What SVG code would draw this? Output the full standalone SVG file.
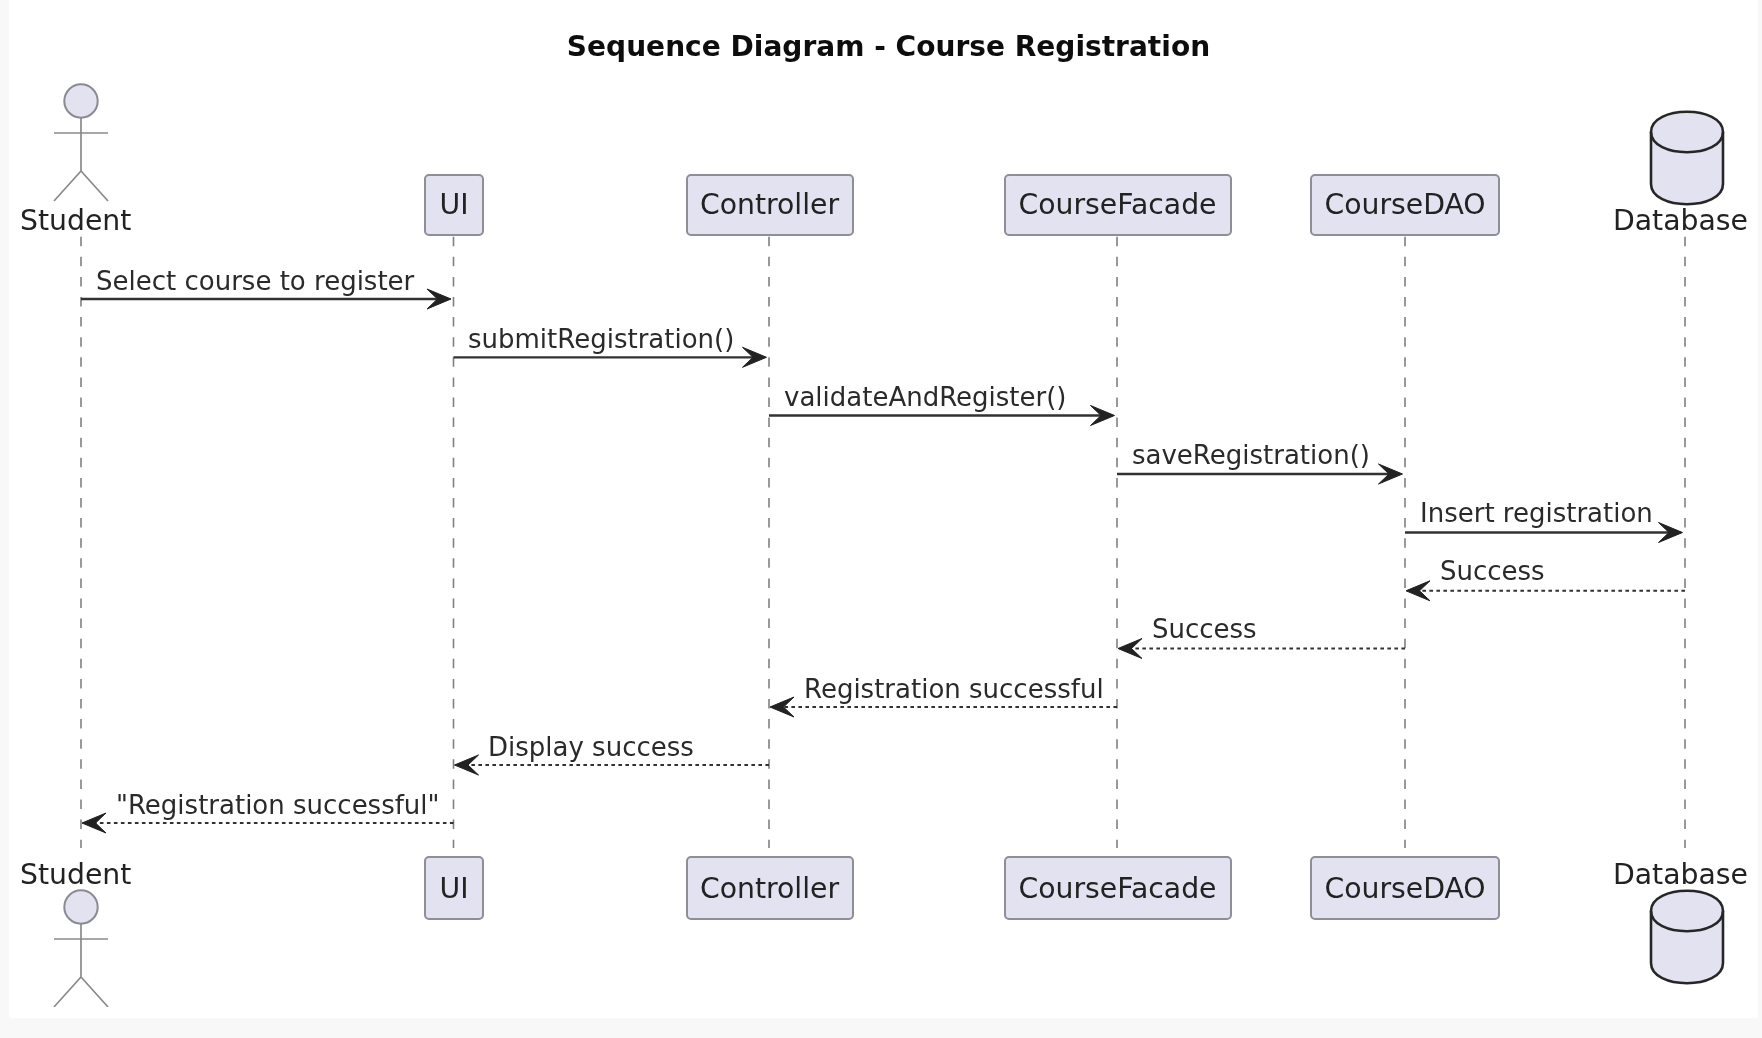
<svg xmlns="http://www.w3.org/2000/svg" width="1762" height="1038" viewBox="0 0 1762 1038">
<style>
text{font-family:"DejaVu Sans",sans-serif;font-size:28.3px;fill:#222}
.title{font-weight:bold;font-size:28.05px;fill:#111}
.msg{font-size:26px;fill:#2a2a2a}
.mid{text-anchor:middle}
.box{fill:#E2E2F0;stroke:#8e8e96;stroke-width:2}
.act{fill:none;stroke:#8a8a8a;stroke-width:1.7}
.head{fill:#E2E2F0;stroke:#8a8a92;stroke-width:2}
.db{fill:#E2E2F0;stroke:#282828;stroke-width:2.6}
.dbl{fill:none;stroke:#282828;stroke-width:2.6}
.life{stroke:#808080;stroke-width:1.6;stroke-dasharray:9.5 10.6;fill:none}
.sync{stroke:#303030;stroke-width:2.3;fill:none}
.ret{stroke:#303030;stroke-width:2;stroke-dasharray:3.6 3.4;fill:none}
.ah{fill:#202020;stroke:#202020;stroke-width:1;stroke-linejoin:round}
</style>
<defs>
<filter id="soft" x="0" y="0" width="100%" height="100%"><feGaussianBlur stdDeviation="0.55"/></filter>
<path id="tipR" class="ah" d="M0 0L-24 -10L-13.500 0L-24 10Z"/>
<path id="tipL" class="ah" d="M0 0L24 -10L13.500 0L24 10Z"/>
<g id="actor"><ellipse class="head" cx="0" cy="0" rx="16.700" ry="16.700"/><path class="act" d="M0 16.700V70M-27 32H27M-27 100L0 70L27 100"/></g>
<g id="cyl"><path class="db" d="M-36 20C-36 -7 36 -7 36 20V72C36 99 -36 99 -36 72Z"/><path class="dbl" d="M-36 20C-36 47 36 47 36 20"/></g>
</defs>
<rect width="1762" height="1038" fill="#f8f8f8"/>
<rect x="9" y="0" width="1749" height="1018" fill="#fff"/>
<g filter="url(#soft)">
<text class="title mid" x="888.500" y="55.500">Sequence Diagram - Course Registration</text>
<g id="connectors">
<path class="life" d="M81 236.700V848"/>
<path class="life" d="M453.500 236.700V848"/>
<path class="life" d="M769 236.700V848"/>
<path class="life" d="M1117 236.700V848"/>
<path class="life" d="M1405 236.700V848"/>
<path class="life" d="M1685 236.700V848"/>
<path class="sync" d="M81 299H440"/><use href="#tipR" x="451" y="299"/>
<path class="sync" d="M453.500 357.300H755"/><use href="#tipR" x="766.500" y="357.300"/>
<path class="sync" d="M769 415.500H1104"/><use href="#tipR" x="1114.500" y="415.500"/>
<path class="sync" d="M1117 474H1392"/><use href="#tipR" x="1402.500" y="474"/>
<path class="sync" d="M1405 532.500H1672"/><use href="#tipR" x="1682.500" y="532.500"/>
<path class="ret" d="M1685 590.800H1418"/><use href="#tipL" x="1406" y="590.800"/>
<path class="ret" d="M1405 648.500H1130"/><use href="#tipL" x="1118" y="648.500"/>
<path class="ret" d="M1117 707H782"/><use href="#tipL" x="770" y="707"/>
<path class="ret" d="M769 765H466"/><use href="#tipL" x="454.500" y="765"/>
<path class="ret" d="M453.500 823H94"/><use href="#tipL" x="82" y="823"/>
</g>
<text class="msg" x="96" y="290">Select course to register</text>
<text class="msg" x="468" y="348">submitRegistration()</text>
<text class="msg" x="784" y="406">validateAndRegister()</text>
<text class="msg" x="1132" y="464">saveRegistration()</text>
<text class="msg" x="1420" y="522">Insert registration</text>
<text class="msg" x="1440" y="580">Success</text>
<text class="msg" x="1152" y="638">Success</text>
<text class="msg" x="804" y="698">Registration successful</text>
<text class="msg" x="488" y="756">Display success</text>
<text class="msg" x="116" y="814">"Registration successful"</text>
<g id="student-top"><use href="#actor" x="81" y="101"/><text x="20" y="230">Student</text></g>
<g id="ui-top"><rect class="box" x="425" y="175" width="58" height="60" rx="4"/><text class="mid" x="454" y="214">UI</text></g>
<g id="controller-top"><rect class="box" x="687" y="175" width="166" height="60" rx="4"/><text class="mid" x="769.500" y="214">Controller</text></g>
<g id="facade-top"><rect class="box" x="1005" y="175" width="226" height="60" rx="4"/><text class="mid" x="1117.500" y="214">CourseFacade</text></g>
<g id="dao-top"><rect class="box" x="1311" y="175" width="188" height="60" rx="4"/><text class="mid" x="1405" y="214">CourseDAO</text></g>
<g id="database-top"><use href="#cyl" x="1687" y="112"/><text class="mid" x="1680.500" y="230">Database</text></g>
<g id="student-bottom"><text x="20" y="884">Student</text><use href="#actor" x="81" y="907"/></g>
<g id="ui-bottom"><rect class="box" x="425" y="857" width="58" height="62" rx="4"/><text class="mid" x="454" y="898">UI</text></g>
<g id="controller-bottom"><rect class="box" x="687" y="857" width="166" height="62" rx="4"/><text class="mid" x="769.500" y="898">Controller</text></g>
<g id="facade-bottom"><rect class="box" x="1005" y="857" width="226" height="62" rx="4"/><text class="mid" x="1117.500" y="898">CourseFacade</text></g>
<g id="dao-bottom"><rect class="box" x="1311" y="857" width="188" height="62" rx="4"/><text class="mid" x="1405" y="898">CourseDAO</text></g>
<g id="database-bottom"><text class="mid" x="1680.500" y="884">Database</text><use href="#cyl" x="1687" y="891"/></g>
</g>
</svg>
